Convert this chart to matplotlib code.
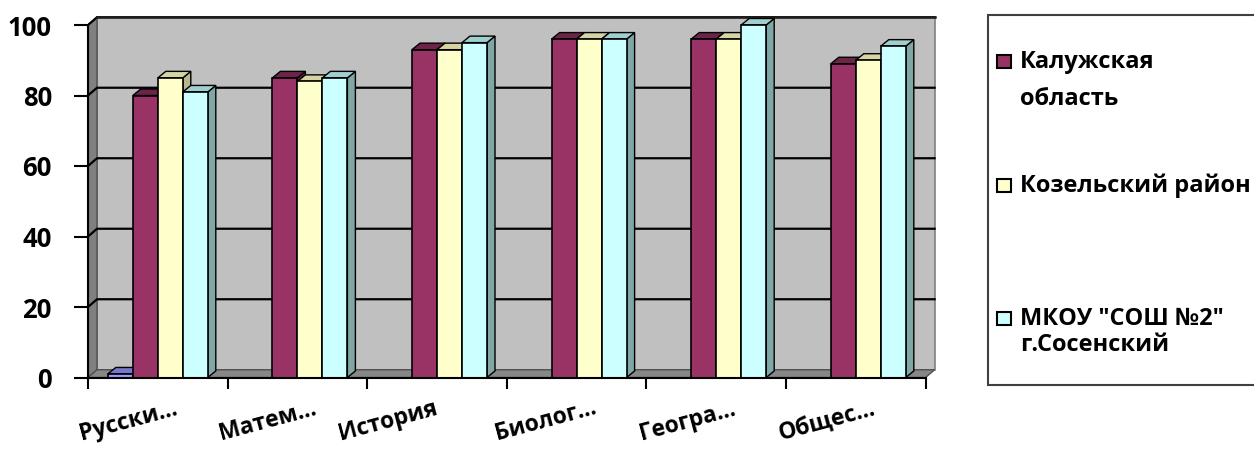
import numpy as np
import matplotlib
matplotlib.use("Agg")
import matplotlib.pyplot as plt
from matplotlib.patches import Polygon, Rectangle

plt.rcParams['font.family'] = ['Open Sans', 'DejaVu Sans']
plt.rcParams['font.weight'] = 'bold'

# data
subjects = ['Русски...', 'Матем...', 'История', 'Биолог...', 'Геогра...', 'Общес...']
ser_blank = [1, 0, 0, 0, 0, 0]
kaluga = [80, 85, 93, 96, 96, 89]
kozelsk = [85, 84, 93, 96, 96, 90]
school = [81, 85, 95, 96, 100, 94]
series = [ser_blank, kaluga, kozelsk, school]
legend_lines = [['Калужская', 'область'], ['Козельский район'], ['МКОУ "СОШ №2"', 'г.Сосенский']]
yticks = [0, 20, 40, 60, 80, 100]

# colours: front, top, side
front_c = ['#9999FF', '#993366', '#FFFFCC', '#CCFFFF']
top_c = ['#7777CC', '#6E2449', '#D6D4A4', '#9FCFCF']
side_c = ['#6666AA', '#6A2246', '#B8B890', '#80A6A6']

W, H = 1254, 449
fig = plt.figure(figsize=(W / 100, H / 100), dpi=100)

# axes placed in pixels: x=-0.5 at 88px, 139.6 px per category; y=0 at 377.5px, 3.525 px per unit
pxc, pxv = 139.6, 3.525
x0, x1 = -0.5, -0.5 + 852 / pxc
y0, y1 = -0.5, 103
left_px, bot_px, top_px = 88, 377.5 - y0 * pxv, 377.5 - y1 * pxv
ax = fig.add_axes([left_px / W, (H - bot_px) / H, 852 / W, (bot_px - top_px) / H])
ax.set_xlim(x0, x1)
ax.set_ylim(y0, y1)
ax.patch.set_visible(False)

n = len(subjects)
dx, dy = 9 / pxc, 2.2          # wall depth
bdx, bdy = 8 / pxc, 1.85       # bar depth

# back wall, side wall and floor
ax.add_patch(Polygon([(-0.5 + dx, dy), (n - 0.5 + dx, dy), (n - 0.5 + dx, 100 + dy), (-0.5 + dx, 100 + dy)],
                     closed=True, fc='#C0C0C0', ec='#808080', lw=1.2, zorder=0))
ax.add_patch(Polygon([(-0.5, 0), (-0.5 + dx, dy), (-0.5 + dx, 100 + dy), (-0.5, 100)],
                     closed=True, fc='#808080', ec='#505050', lw=1, zorder=0.5))
ax.add_patch(Polygon([(-0.5, 0), (n - 0.5, 0), (n - 0.5 + dx, dy), (-0.5 + dx, dy)],
                     closed=True, fc='#878787', ec='#505050', lw=1, zorder=0.5))
for g in yticks[1:]:
    ax.plot([-0.5, -0.5 + dx, n - 0.5 + dx], [g, g + dy, g + dy], color='black', lw=1.6, zorder=1)
ax.plot([-0.5, -0.5], [0, 100], color='black', lw=1.5, zorder=1)
ax.plot([-0.5 + dx, n - 0.5 + dx], [100 + dy, 100 + dy], color='#202020', lw=1.8, zorder=1)

# bars (painter's order, left to right)
w = 25 / pxc
off = (1 - 4 * w) / 2
z = 3
for i in range(n):
    for s, vals in enumerate(series):
        v = vals[i]
        if s == 0 and v == 0:
            continue
        xl = i - 0.5 + off + s * w
        ax.add_patch(Polygon([(xl + w, 0), (xl + w + bdx, bdy), (xl + w + bdx, v + bdy), (xl + w, v)],
                             closed=True, fc=side_c[s], ec='black', lw=1, zorder=z))
        ax.add_patch(Polygon([(xl, v), (xl + w, v), (xl + w + bdx, v + bdy), (xl + bdx, v + bdy)],
                             closed=True, fc=top_c[s], ec='black', lw=1, zorder=z))
        ax.bar(xl, v, width=w, align='edge', color=front_c[s], edgecolor='black', lw=1.2, zorder=z + 0.5)
        z += 1

# axes lines and ticks
for sp in ['top', 'right']:
    ax.spines[sp].set_visible(False)
ax.spines['left'].set_bounds(0, 100)
ax.spines['bottom'].set_position(('data', 0))
ax.spines['bottom'].set_bounds(-0.5, n - 0.5)
ax.spines['bottom'].set_zorder(50)
ax.spines['left'].set_linewidth(1.5)
ax.spines['bottom'].set_linewidth(1.5)
ax.set_yticks(yticks)
ax.tick_params(axis='y', length=10, width=1.5, pad=16, labelsize=18.5)
ax.set_xticks(np.arange(-0.5, n, 1))
ax.set_xticklabels([])
ax.tick_params(axis='x', length=8, width=1.5)
for lab in ax.get_yticklabels():
    lab.set_fontweight('bold')

# category labels
lab_shift = [22, 22, 3, 22, 22, 22]
for i, name in enumerate(subjects):
    ax.text(i + lab_shift[i] / pxc, -19.3, name, rotation=15, ha='right', va='bottom',
            fontsize=16.5, fontweight='bold')

# legend box
def fx(px):
    return px / W

def fy(py):
    return (H - py) / H

fig.patches.append(Rectangle((fx(988), fy(385)), fx(1262) - fx(988), fy(15) - fy(385),
                             transform=fig.transFigure, fc='white', ec='#404040', lw=1.5))
base_y = [68, 192, 325]
line_gap = [37, 0, 26]
for k, lines in enumerate(legend_lines):
    b = base_y[k]
    fig.patches.append(Rectangle((fx(997), fy(b)), fx(1011) - fx(997), fy(b - 13) - fy(b),
                                 transform=fig.transFigure, fc=front_c[k + 1], ec='black', lw=1.5))
    for j, t in enumerate(lines):
        fig.text(fx(1020), fy(b + j * line_gap[k]), t, ha='left', va='baseline',
                 fontsize=17, fontweight='bold')

fig.savefig('out.png', dpi=100)
